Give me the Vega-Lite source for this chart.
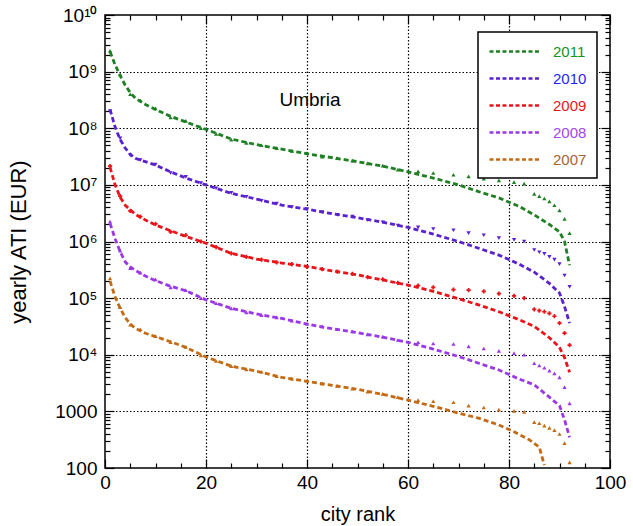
{
 "$schema": "https://vega.github.io/schema/vega-lite/v6.json",
 "width": 505, "height": 453,
 "autosize": "none",
 "padding": {"left": 105, "top": 15, "right": 23, "bottom": 58},
 "config": {
  "font": "Liberation Sans",
  "view": {"stroke": "#000", "strokeWidth": 1.5},
  "axis": {"domain": false, "labelFont": "Liberation Sans", "labelFontSize": 19, "labelColor": "#000", "titleFont": "Liberation Sans", "titleFontSize": 20, "titleFontWeight": "normal", "titleColor": "#000", "tickColor": "#000", "tickWidth": 1.2}
 },
 "datasets": {
  "ln": [
   {"y":"2011","r":1,"v":2.24e9},{"y":"2011","r":2,"v":1.32e9},{"y":"2011","r":3,"v":8.5e8},{"y":"2011","r":4,"v":5.75e8},{"y":"2011","r":5,"v":4.27e8},{"y":"2011","r":6,"v":3.39e8},{"y":"2011","r":8,"v":2.63e8},{"y":"2011","r":10,"v":2.14e8},{"y":"2011","r":13,"v":1.62e8},{"y":"2011","r":16,"v":1.29e8},{"y":"2011","r":20,"v":9.55e7},{"y":"2011","r":25,"v":6.46e7},{"y":"2011","r":30,"v":5.13e7},{"y":"2011","r":35,"v":4.27e7},{"y":"2011","r":40,"v":3.55e7},{"y":"2011","r":45,"v":3.02e7},{"y":"2011","r":50,"v":2.57e7},{"y":"2011","r":55,"v":2.14e7},{"y":"2011","r":60,"v":1.7e7},{"y":"2011","r":65,"v":1.32e7},{"y":"2011","r":70,"v":1.0e7},{"y":"2011","r":74,"v":7.59e6},{"y":"2011","r":78,"v":5.89e6},{"y":"2011","r":82,"v":4.17e6},{"y":"2011","r":85,"v":2.95e6},{"y":"2011","r":88,"v":2.0e6},{"y":"2011","r":90,"v":1.48e6},{"y":"2011","r":91,"v":1.0e6},{"y":"2011","r":92,"v":3.8e5},
   {"y":"2010","r":1,"v":2.14e8},{"y":"2010","r":2,"v":1.05e8},{"y":"2010","r":3,"v":6.3e7},{"y":"2010","r":4,"v":4.47e7},{"y":"2010","r":5,"v":3.47e7},{"y":"2010","r":6,"v":2.95e7},{"y":"2010","r":8,"v":2.57e7},{"y":"2010","r":10,"v":2.24e7},{"y":"2010","r":13,"v":1.7e7},{"y":"2010","r":16,"v":1.32e7},{"y":"2010","r":20,"v":1.0e7},{"y":"2010","r":25,"v":7.08e6},{"y":"2010","r":30,"v":5.62e6},{"y":"2010","r":35,"v":4.37e6},{"y":"2010","r":40,"v":3.72e6},{"y":"2010","r":45,"v":3.09e6},{"y":"2010","r":50,"v":2.63e6},{"y":"2010","r":55,"v":2.19e6},{"y":"2010","r":60,"v":1.78e6},{"y":"2010","r":65,"v":1.35e6},{"y":"2010","r":70,"v":1.0e6},{"y":"2010","r":74,"v":7.59e5},{"y":"2010","r":78,"v":5.75e5},{"y":"2010","r":82,"v":3.98e5},{"y":"2010","r":85,"v":2.88e5},{"y":"2010","r":88,"v":1.82e5},{"y":"2010","r":90,"v":1.23e5},{"y":"2010","r":91,"v":7.08e4},{"y":"2010","r":92,"v":3.63e4},
   {"y":"2009","r":1,"v":2.04e7},{"y":"2009","r":2,"v":1.0e7},{"y":"2009","r":3,"v":6.03e6},{"y":"2009","r":4,"v":4.37e6},{"y":"2009","r":5,"v":3.63e6},{"y":"2009","r":6,"v":3.02e6},{"y":"2009","r":8,"v":2.4e6},{"y":"2009","r":10,"v":1.95e6},{"y":"2009","r":13,"v":1.55e6},{"y":"2009","r":16,"v":1.23e6},{"y":"2009","r":20,"v":9.33e5},{"y":"2009","r":25,"v":6.17e5},{"y":"2009","r":30,"v":4.9e5},{"y":"2009","r":35,"v":4.17e5},{"y":"2009","r":40,"v":3.63e5},{"y":"2009","r":45,"v":3.02e5},{"y":"2009","r":50,"v":2.57e5},{"y":"2009","r":55,"v":2.09e5},{"y":"2009","r":60,"v":1.7e5},{"y":"2009","r":65,"v":1.32e5},{"y":"2009","r":70,"v":9.77e4},{"y":"2009","r":74,"v":7.59e4},{"y":"2009","r":78,"v":5.75e4},{"y":"2009","r":82,"v":4.17e4},{"y":"2009","r":85,"v":3.16e4},{"y":"2009","r":88,"v":2.0e4},{"y":"2009","r":90,"v":1.35e4},{"y":"2009","r":91,"v":8.9e3},{"y":"2009","r":92,"v":4.9e3},
   {"y":"2008","r":1,"v":2.09e6},{"y":"2008","r":2,"v":1.12e6},{"y":"2008","r":3,"v":6.61e5},{"y":"2008","r":4,"v":4.37e5},{"y":"2008","r":5,"v":3.55e5},{"y":"2008","r":6,"v":3.09e5},{"y":"2008","r":8,"v":2.45e5},{"y":"2008","r":10,"v":2.04e5},{"y":"2008","r":13,"v":1.62e5},{"y":"2008","r":16,"v":1.35e5},{"y":"2008","r":20,"v":9.33e4},{"y":"2008","r":25,"v":6.61e4},{"y":"2008","r":30,"v":5.25e4},{"y":"2008","r":35,"v":4.37e4},{"y":"2008","r":40,"v":3.47e4},{"y":"2008","r":45,"v":2.88e4},{"y":"2008","r":50,"v":2.45e4},{"y":"2008","r":55,"v":2.04e4},{"y":"2008","r":60,"v":1.66e4},{"y":"2008","r":65,"v":1.26e4},{"y":"2008","r":70,"v":9.33e3},{"y":"2008","r":74,"v":7.08e3},{"y":"2008","r":78,"v":5.37e3},{"y":"2008","r":82,"v":3.72e3},{"y":"2008","r":85,"v":2.95e3},{"y":"2008","r":88,"v":1.78e3},{"y":"2008","r":90,"v":1.26e3},{"y":"2008","r":91,"v":708},{"y":"2008","r":92,"v":347},
   {"y":"2007","r":1,"v":2.0e5},{"y":"2007","r":2,"v":1.05e5},{"y":"2007","r":3,"v":6.61e4},{"y":"2007","r":4,"v":4.57e4},{"y":"2007","r":5,"v":3.47e4},{"y":"2007","r":6,"v":2.95e4},{"y":"2007","r":8,"v":2.4e4},{"y":"2007","r":10,"v":2.09e4},{"y":"2007","r":13,"v":1.7e4},{"y":"2007","r":16,"v":1.35e4},{"y":"2007","r":20,"v":9.12e3},{"y":"2007","r":25,"v":6.31e3},{"y":"2007","r":30,"v":5.13e3},{"y":"2007","r":35,"v":3.98e3},{"y":"2007","r":40,"v":3.39e3},{"y":"2007","r":45,"v":2.88e3},{"y":"2007","r":50,"v":2.45e3},{"y":"2007","r":55,"v":2.0e3},{"y":"2007","r":60,"v":1.58e3},{"y":"2007","r":65,"v":1.23e3},{"y":"2007","r":70,"v":933},{"y":"2007","r":74,"v":759},{"y":"2007","r":78,"v":575},{"y":"2007","r":81,"v":437},{"y":"2007","r":84,"v":316},{"y":"2007","r":86,"v":234},{"y":"2007","r":87,"v":112}
  ],
  "pt": [
   {"y":"2011","r":1,"v":2.34e9},{"y":"2011","r":3,"v":8.91e8},{"y":"2011","r":5,"v":3.98e8},{"y":"2011","r":7,"v":3.09e8},{"y":"2011","r":10,"v":2.24e8},{"y":"2011","r":13,"v":1.55e8},{"y":"2011","r":16,"v":1.35e8},{"y":"2011","r":19,"v":1.0e8},{"y":"2011","r":22,"v":7.94e7},{"y":"2011","r":25,"v":6.31e7},{"y":"2011","r":28,"v":5.5e7},{"y":"2011","r":31,"v":5.01e7},{"y":"2011","r":34,"v":4.47e7},{"y":"2011","r":37,"v":3.98e7},{"y":"2011","r":40,"v":3.63e7},{"y":"2011","r":43,"v":3.16e7},{"y":"2011","r":46,"v":2.95e7},{"y":"2011","r":49,"v":2.69e7},{"y":"2011","r":52,"v":2.4e7},{"y":"2011","r":55,"v":2.19e7},{"y":"2011","r":58,"v":1.86e7},{"y":"2011","r":62,"v":1.74e7},{"y":"2011","r":65,"v":1.62e7},{"y":"2011","r":69,"v":1.51e7},{"y":"2011","r":72,"v":1.41e7},{"y":"2011","r":75,"v":1.29e7},{"y":"2011","r":78,"v":1.2e7},{"y":"2011","r":81,"v":1.12e7},{"y":"2011","r":83,"v":1.05e7},{"y":"2011","r":85,"v":6.92e6},{"y":"2011","r":86,"v":6.31e6},{"y":"2011","r":87,"v":5.75e6},{"y":"2011","r":88,"v":5.13e6},{"y":"2011","r":89,"v":4.37e6},{"y":"2011","r":90,"v":3.55e6},{"y":"2011","r":91,"v":2.51e6},{"y":"2011","r":92,"v":1.41e6},
   {"y":"2010","r":1,"v":2.0e8},{"y":"2010","r":3,"v":6.61e7},{"y":"2010","r":5,"v":3.31e7},{"y":"2010","r":7,"v":2.75e7},{"y":"2010","r":10,"v":2.29e7},{"y":"2010","r":13,"v":1.62e7},{"y":"2010","r":16,"v":1.38e7},{"y":"2010","r":19,"v":1.07e7},{"y":"2010","r":22,"v":8.71e6},{"y":"2010","r":25,"v":7.24e6},{"y":"2010","r":28,"v":6.17e6},{"y":"2010","r":31,"v":5.25e6},{"y":"2010","r":34,"v":4.68e6},{"y":"2010","r":37,"v":4.07e6},{"y":"2010","r":40,"v":3.72e6},{"y":"2010","r":43,"v":3.31e6},{"y":"2010","r":46,"v":2.95e6},{"y":"2010","r":49,"v":2.75e6},{"y":"2010","r":52,"v":2.4e6},{"y":"2010","r":55,"v":2.19e6},{"y":"2010","r":58,"v":1.91e6},{"y":"2010","r":62,"v":1.78e6},{"y":"2010","r":65,"v":1.66e6},{"y":"2010","r":69,"v":1.58e6},{"y":"2010","r":72,"v":1.41e6},{"y":"2010","r":75,"v":1.29e6},{"y":"2010","r":78,"v":1.15e6},{"y":"2010","r":81,"v":1.07e6},{"y":"2010","r":83,"v":1.0e6},{"y":"2010","r":85,"v":7.08e5},{"y":"2010","r":86,"v":6.46e5},{"y":"2010","r":87,"v":6.03e5},{"y":"2010","r":88,"v":5.37e5},{"y":"2010","r":89,"v":4.79e5},{"y":"2010","r":90,"v":3.98e5},{"y":"2010","r":91,"v":2.51e5},{"y":"2010","r":92,"v":1.58e5},
   {"y":"2009","r":1,"v":2.14e7},{"y":"2009","r":3,"v":6.31e6},{"y":"2009","r":5,"v":3.47e6},{"y":"2009","r":7,"v":2.75e6},{"y":"2009","r":10,"v":2.04e6},{"y":"2009","r":13,"v":1.48e6},{"y":"2009","r":16,"v":1.29e6},{"y":"2009","r":19,"v":1.0e6},{"y":"2009","r":22,"v":7.94e5},{"y":"2009","r":25,"v":6.17e5},{"y":"2009","r":28,"v":5.37e5},{"y":"2009","r":31,"v":4.79e5},{"y":"2009","r":34,"v":4.27e5},{"y":"2009","r":37,"v":3.98e5},{"y":"2009","r":40,"v":3.55e5},{"y":"2009","r":43,"v":3.24e5},{"y":"2009","r":46,"v":2.95e5},{"y":"2009","r":49,"v":2.69e5},{"y":"2009","r":52,"v":2.34e5},{"y":"2009","r":55,"v":2.14e5},{"y":"2009","r":58,"v":1.86e5},{"y":"2009","r":62,"v":1.66e5},{"y":"2009","r":65,"v":1.55e5},{"y":"2009","r":69,"v":1.41e5},{"y":"2009","r":72,"v":1.38e5},{"y":"2009","r":75,"v":1.32e5},{"y":"2009","r":78,"v":1.2e5},{"y":"2009","r":81,"v":1.1e5},{"y":"2009","r":83,"v":1.0e5},{"y":"2009","r":85,"v":6.31e4},{"y":"2009","r":86,"v":6.03e4},{"y":"2009","r":87,"v":5.75e4},{"y":"2009","r":88,"v":5.37e4},{"y":"2009","r":89,"v":4.79e4},{"y":"2009","r":90,"v":3.63e4},{"y":"2009","r":91,"v":2.4e4},{"y":"2009","r":92,"v":1.48e4},
   {"y":"2008","r":1,"v":2.24e6},{"y":"2008","r":3,"v":6.92e5},{"y":"2008","r":5,"v":3.39e5},{"y":"2008","r":7,"v":2.82e5},{"y":"2008","r":10,"v":2.14e5},{"y":"2008","r":13,"v":1.55e5},{"y":"2008","r":16,"v":1.38e5},{"y":"2008","r":19,"v":1.0e5},{"y":"2008","r":22,"v":8.13e4},{"y":"2008","r":25,"v":6.61e4},{"y":"2008","r":28,"v":5.62e4},{"y":"2008","r":31,"v":5.01e4},{"y":"2008","r":34,"v":4.57e4},{"y":"2008","r":37,"v":3.98e4},{"y":"2008","r":40,"v":3.55e4},{"y":"2008","r":43,"v":3.16e4},{"y":"2008","r":46,"v":2.82e4},{"y":"2008","r":49,"v":2.57e4},{"y":"2008","r":52,"v":2.29e4},{"y":"2008","r":55,"v":2.09e4},{"y":"2008","r":58,"v":1.82e4},{"y":"2008","r":62,"v":1.66e4},{"y":"2008","r":65,"v":1.58e4},{"y":"2008","r":69,"v":1.55e4},{"y":"2008","r":72,"v":1.41e4},{"y":"2008","r":75,"v":1.29e4},{"y":"2008","r":78,"v":1.17e4},{"y":"2008","r":81,"v":1.07e4},{"y":"2008","r":83,"v":1.0e4},{"y":"2008","r":85,"v":7.08e3},{"y":"2008","r":86,"v":6.46e3},{"y":"2008","r":87,"v":5.89e3},{"y":"2008","r":88,"v":5.25e3},{"y":"2008","r":89,"v":4.68e3},{"y":"2008","r":90,"v":3.98e3},{"y":"2008","r":91,"v":2.69e3},{"y":"2008","r":92,"v":1.38e3},
   {"y":"2007","r":1,"v":2.24e5},{"y":"2007","r":3,"v":6.92e4},{"y":"2007","r":5,"v":3.39e4},{"y":"2007","r":7,"v":2.82e4},{"y":"2007","r":10,"v":2.14e4},{"y":"2007","r":13,"v":1.66e4},{"y":"2007","r":16,"v":1.38e4},{"y":"2007","r":19,"v":9.77e3},{"y":"2007","r":22,"v":7.76e3},{"y":"2007","r":25,"v":6.31e3},{"y":"2007","r":28,"v":5.5e3},{"y":"2007","r":31,"v":5.01e3},{"y":"2007","r":34,"v":4.17e3},{"y":"2007","r":37,"v":3.8e3},{"y":"2007","r":40,"v":3.47e3},{"y":"2007","r":43,"v":3.09e3},{"y":"2007","r":46,"v":2.82e3},{"y":"2007","r":49,"v":2.51e3},{"y":"2007","r":52,"v":2.24e3},{"y":"2007","r":55,"v":2.04e3},{"y":"2007","r":58,"v":1.78e3},{"y":"2007","r":62,"v":1.58e3},{"y":"2007","r":65,"v":1.51e3},{"y":"2007","r":69,"v":1.45e3},{"y":"2007","r":72,"v":1.26e3},{"y":"2007","r":75,"v":1.17e3},{"y":"2007","r":78,"v":1.07e3},{"y":"2007","r":81,"v":1.02e3},{"y":"2007","r":83,"v":977},{"y":"2007","r":85,"v":646},{"y":"2007","r":86,"v":617},{"y":"2007","r":87,"v":562},{"y":"2007","r":88,"v":513},{"y":"2007","r":89,"v":468},{"y":"2007","r":90,"v":398},{"y":"2007","r":91,"v":275},{"y":"2007","r":92,"v":126}
  ]
 },
 "layer": [
  {
   "data": {"name": "ln"},
   "mark": {"type": "line", "strokeDash": [5, 3], "strokeWidth": 2.8},
   "encoding": {
    "x": {"field": "r", "type": "quantitative", "scale": {"domain": [0, 100], "nice": false, "zero": false},
      "axis": {"orient": "bottom", "title": "city rank", "titlePadding": 8,
        "values": [0,5,10,15,20,25,30,35,40,45,50,55,60,65,70,75,80,85,90,95,100],
        "labelExpr": "datum.value % 20 == 0 ? datum.label : ''", "labelPadding": 14, "labelFlush": false, "labelOverlap": false,
        "grid": true, "gridColor": "#000", "gridDash": [1.5, 2], "gridWidth": 1.2,
        "gridOpacity": {"condition": {"test": "datum.value % 20 == 0 && datum.value > 0 && datum.value < 100", "value": 1}, "value": 0},
        "tickSize": {"condition": {"test": "datum.value % 20 == 0", "value": -9}, "value": -5}}},
    "y": {"field": "v", "type": "quantitative", "scale": {"type": "log", "domain": [100, 1e10], "nice": false},
      "axis": {"orient": "left", "title": "yearly ATI (EUR)", "titlePadding": 24, "titleFontSize": 22,
        "values": [1e2,2e2,3e2,4e2,5e2,6e2,7e2,8e2,9e2,1e3,2e3,3e3,4e3,5e3,6e3,7e3,8e3,9e3,1e4,2e4,3e4,4e4,5e4,6e4,7e4,8e4,9e4,1e5,2e5,3e5,4e5,5e5,6e5,7e5,8e5,9e5,1e6,2e6,3e6,4e6,5e6,6e6,7e6,8e6,9e6,1e7,2e7,3e7,4e7,5e7,6e7,7e7,8e7,9e7,1e8,2e8,3e8,4e8,5e8,6e8,7e8,8e8,9e8,1e9,2e9,3e9,4e9,5e9,6e9,7e9,8e9,9e9,1e10],
        "labelExpr": "abs(log(datum.value)/LN10 - round(log(datum.value)/LN10)) > 1e-6 ? '' : datum.value == 100 ? '100' : datum.value == 1000 ? '1000' : '10' + ['','','','','⁴','⁵','⁶','⁷','⁸','⁹','¹⁰'][round(log(datum.value)/LN10)]",
        "labelPadding": 17, "labelFlush": false, "labelOverlap": false,
        "grid": true, "gridColor": "#000", "gridDash": [1.5, 2], "gridWidth": 1.2,
        "gridOpacity": {"condition": {"test": "abs(log(datum.value)/LN10 - round(log(datum.value)/LN10)) < 1e-6 && datum.value > 100 && datum.value < 1e10", "value": 1}, "value": 0},
        "tickSize": {"condition": {"test": "abs(log(datum.value)/LN10 - round(log(datum.value)/LN10)) < 1e-6", "value": -9}, "value": -5}}},
    "color": {"field": "y", "type": "nominal",
      "scale": {"domain": ["2011","2010","2009","2008","2007"], "range": ["#1f7f23","#5a22cf","#e8141a","#9b38e6","#c46a14"]},
      "legend": {"orient": "none", "legendX": 373, "legendY": 17, "title": null,
        "symbolType": "M-1,0H5.25", "symbolSize": 256, "symbolStrokeWidth": 2.5, "symbolDash": [4, 2.5],
        "labelFont": "Liberation Sans", "labelFontSize": 15, "labelOffset": 46, "rowPadding": 9, "padding": 10,
        "strokeColor": "#000", "fillColor": "#fff",
        "encode": {"labels": {"update": {"fill": {"signal": "datum.value == '2011' ? '#13921c' : datum.value == '2010' ? '#1f1fff' : datum.value == '2009' ? '#e3171a' : datum.value == '2008' ? '#a545ee' : '#a8652c'"}}},
                   "legend": {"update": {"strokeWidth": {"value": 1.5}}}}}}
   }
  },
  {
   "data": {"name": "pt"},
   "mark": {"type": "point", "filled": true, "size": 18, "opacity": 1},
   "encoding": {
    "x": {"field": "r", "type": "quantitative",
      "axis": {"orient": "top", "title": null, "labels": false, "grid": false,
        "values": [0,5,10,15,20,25,30,35,40,45,50,55,60,65,70,75,80,85,90,95,100],
        "tickSize": {"condition": {"test": "datum.value % 20 == 0", "value": -9}, "value": -5}}},
    "y": {"field": "v", "type": "quantitative",
      "axis": {"orient": "right", "title": null, "labels": false, "grid": false,
        "values": [1e2,2e2,3e2,4e2,5e2,6e2,7e2,8e2,9e2,1e3,2e3,3e3,4e3,5e3,6e3,7e3,8e3,9e3,1e4,2e4,3e4,4e4,5e4,6e4,7e4,8e4,9e4,1e5,2e5,3e5,4e5,5e5,6e5,7e5,8e5,9e5,1e6,2e6,3e6,4e6,5e6,6e6,7e6,8e6,9e6,1e7,2e7,3e7,4e7,5e7,6e7,7e7,8e7,9e7,1e8,2e8,3e8,4e8,5e8,6e8,7e8,8e8,9e8,1e9,2e9,3e9,4e9,5e9,6e9,7e9,8e9,9e9,1e10],
        "tickSize": {"condition": {"test": "abs(log(datum.value)/LN10 - round(log(datum.value)/LN10)) < 1e-6", "value": -9}, "value": -5}}},
    "color": {"field": "y", "type": "nominal", "legend": null},
    "shape": {"field": "y", "type": "nominal",
      "scale": {"domain": ["2011","2010","2009","2008","2007"], "range": ["triangle-up","triangle-down","cross","triangle-up","triangle-up"]},
      "legend": null}
   }
  },
  {
   "data": {"values": [{}]},
   "mark": {"type": "text", "font": "Liberation Sans", "fontSize": 19, "color": "#000"},
   "encoding": {
    "x": {"datum": 40.6, "type": "quantitative", "axis": null},
    "y": {"datum": 3.2e8, "type": "quantitative", "axis": null},
    "text": {"value": "Umbria"}
   }
  }
 ],
 "resolve": {"axis": {"x": "independent", "y": "independent"}, "legend": {"color": "independent", "shape": "independent"}}
}
